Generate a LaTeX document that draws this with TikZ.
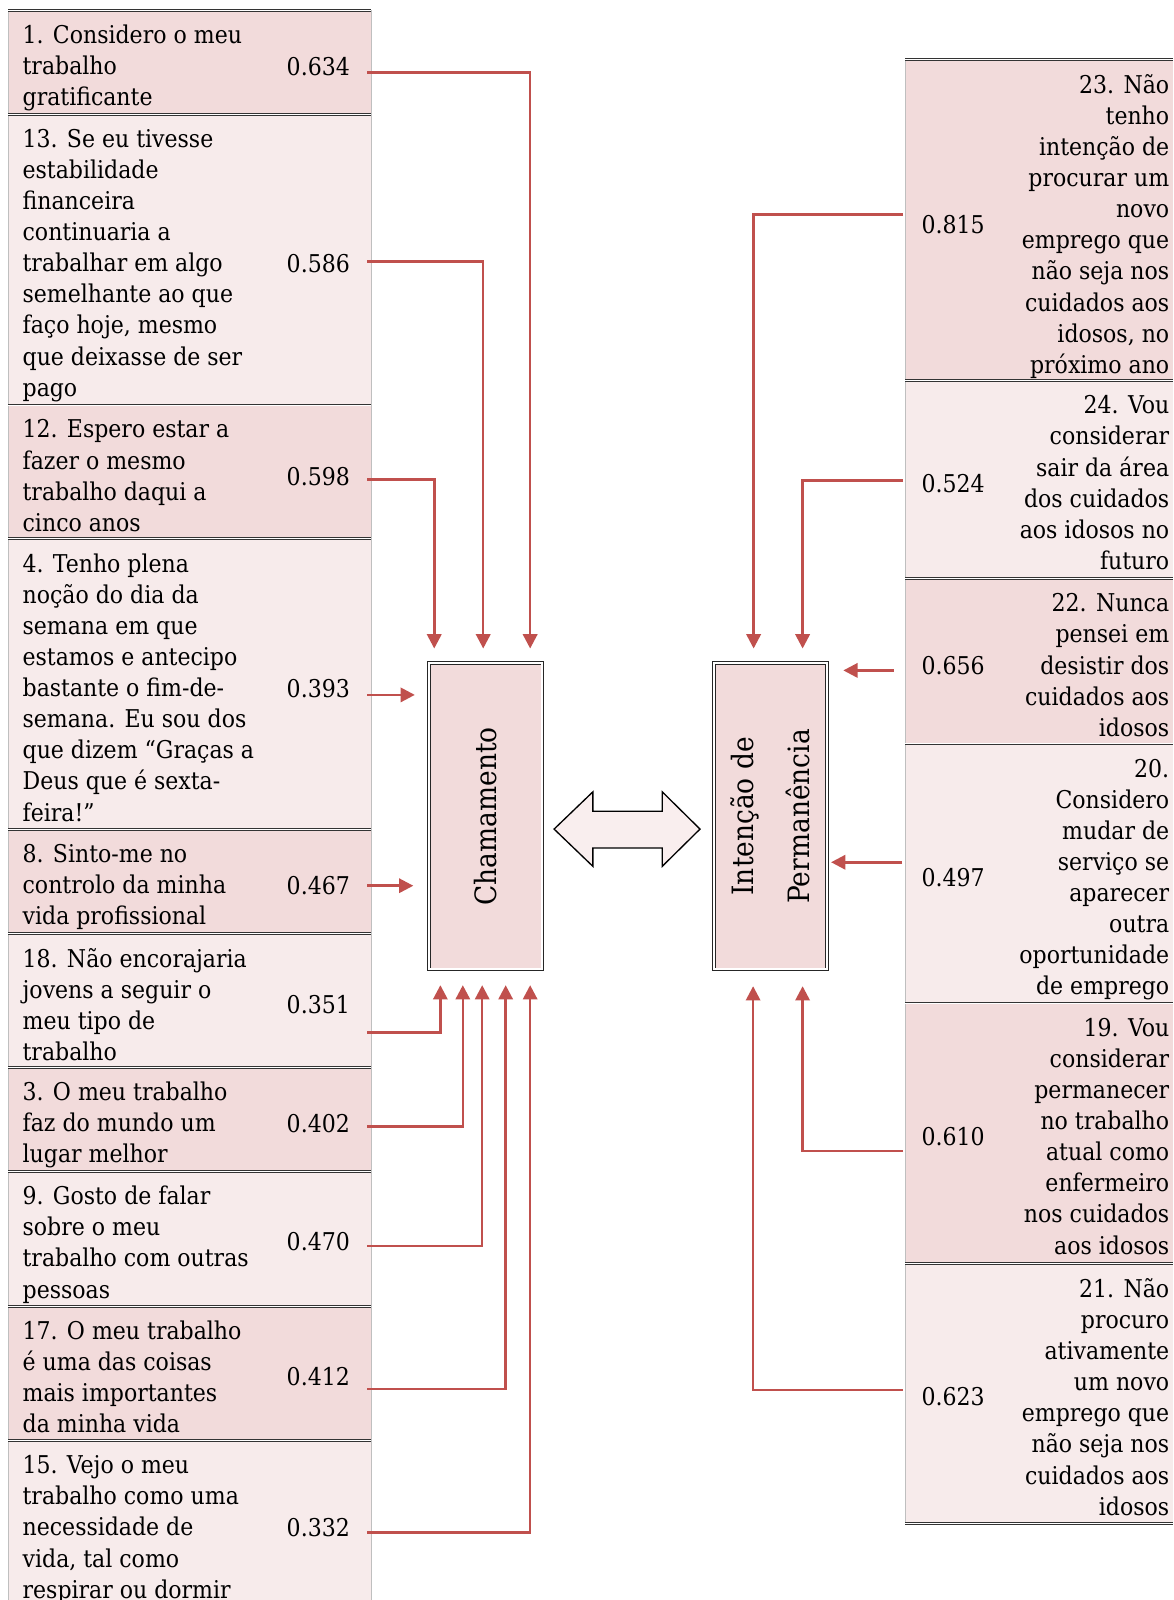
\documentclass[tikz,border=0pt]{standalone}
\usepackage{fontspec}
\setmainfont{DejaVu Serif Condensed}
\usepackage{graphicx}
\usetikzlibrary{arrows.meta}
\definecolor{rowdark}{HTML}{F2DBDB}
\definecolor{rowlight}{HTML}{F7EBEB}
\definecolor{linkred}{HTML}{C0504D}
\definecolor{linkfill}{HTML}{F9EEEE}
\tikzset{
  txt/.style={font=\fontsize{24}{30.5}\selectfont, inner sep=0pt},
  big/.style={font=\fontsize{28.8}{34}\selectfont, inner sep=0pt, rotate=90},
  item/.style={txt, anchor=north west, align=left, execute at begin node=\strut},
  itemr/.style={txt, anchor=north east, align=right, execute at begin node=\strut},
  rule/.style={draw=black!80, double=white, double distance=0.9pt, line width=0.9pt},
  edge/.style={draw=black!25, line width=0.8pt},
  factor/.style={draw=black!85, line width=0.9pt, double=white, double distance=1.8pt,
    fill=rowdark, minimum width=111pt, minimum height=300pt},
  arr/.style={draw=linkred, line width=2.5pt, -{Triangle[length=14pt,width=14pt]}},
  link/.style={draw=black, line width=1.3pt, fill=linkfill, line join=miter}
}

\begin{document}
\begin{tikzpicture}[x=1pt,y=-1pt]
\useasboundingbox (0,0) rectangle (1150,1568);

% left table
\fill[rowdark] (8,10) rectangle (364,112);
\fill[rowlight] (8,112) rectangle (364,397);
\fill[rowdark] (8,397) rectangle (364,528);
\fill[rowlight] (8,528) rectangle (364,813);
\fill[rowdark] (8,813) rectangle (364,915);
\fill[rowlight] (8,915) rectangle (364,1046);
\fill[rowdark] (8,1046) rectangle (364,1148);
\fill[rowlight] (8,1148) rectangle (364,1280);
\fill[rowdark] (8,1280) rectangle (364,1412);
\fill[rowlight] (8,1412) rectangle (364,1568);
\draw[edge] (8,10) -- (8,1568);
\draw[edge] (364,10) -- (364,1568);
\foreach \y in {10,112,397,528,813,915,1046,1148,1280,1412}
  \draw[rule] (8,\y) -- (364,\y);

% right table
\fill[rowdark] (887,58) rectangle (1150,373);
\fill[rowlight] (887,373) rectangle (1150,567);
\fill[rowdark] (887,567) rectangle (1150,729);
\fill[rowlight] (887,729) rectangle (1150,983);
\fill[rowdark] (887,983) rectangle (1150,1238);
\fill[rowlight] (887,1238) rectangle (1150,1493);
\draw[edge] (887,58) -- (887,1493);
\foreach \y in {58,373,567,729,983,1238,1493}
  \draw[rule] (887,\y) -- (1150,\y);

% items, Chamamento
\node[item] (r1) at (22,24.2) {1. Considero o meu\\trabalho\\gratificante};
\node[item] (r13) at (22,126.2) {13. Se eu tivesse\\estabilidade\\financeira\\continuaria a\\trabalhar em algo\\semelhante ao que\\faço hoje, mesmo\\que deixasse de ser\\pago};
\node[item] (r12) at (22,411.2) {12. Espero estar a\\fazer o mesmo\\trabalho daqui a\\cinco anos};
\node[item] (r4) at (22,542.2) {4. Tenho plena\\noção do dia da\\semana em que\\estamos e antecipo\\bastante o fim-de-\\semana. Eu sou dos\\que dizem “Graças a\\Deus que é sexta-\\feira!”};
\node[item] (r8) at (22,827.2) {8. Sinto-me no\\controlo da minha\\vida profissional};
\node[item] (r18) at (22,929.2) {18. Não encorajaria\\jovens a seguir o\\meu tipo de\\trabalho};
\node[item] (r3) at (22,1060.2) {3. O meu trabalho\\faz do mundo um\\lugar melhor};
\node[item] (r9) at (22,1162.2) {9. Gosto de falar\\sobre o meu\\trabalho com outras\\pessoas};
\node[item] (r17) at (22,1294.2) {17. O meu trabalho\\é uma das coisas\\mais importantes\\da minha vida};
\node[item] (r15) at (22,1426.2) {15. Vejo o meu\\trabalho como uma\\necessidade de\\vida, tal como\\respirar ou dormir};

\node[txt, anchor=east] (v634) at (343,65) {0.634};
\node[txt, anchor=east] (v586) at (343,258) {0.586};
\node[txt, anchor=east] (v598) at (343,467) {0.598};
\node[txt, anchor=east] (v393) at (343,675) {0.393};
\node[txt, anchor=east] (v467) at (343,868) {0.467};
\node[txt, anchor=east] (v351) at (343,984) {0.351};
\node[txt, anchor=east] (v402) at (343,1101) {0.402};
\node[txt, anchor=east] (v470) at (343,1217) {0.470};
\node[txt, anchor=east] (v412) at (343,1349) {0.412};
\node[txt, anchor=east] (v332) at (343,1497) {0.332};

% items, Intencao
\node[itemr] (q23) at (1146,72.5) {23. Não\\tenho\\intenção de\\procurar um\\novo\\emprego que\\não seja nos\\cuidados aos\\idosos, no\\próximo ano};
\node[itemr] (q24) at (1146,387.5) {24. Vou\\considerar\\sair da área\\dos cuidados\\aos idosos no\\futuro};
\node[itemr] (q22) at (1146,581.5) {22. Nunca\\pensei em\\desistir dos\\cuidados aos\\idosos};
\node[itemr] (q20) at (1146,743.5) {20.\\Considero\\mudar de\\serviço se\\aparecer\\outra\\oportunidade\\de emprego};
\node[itemr] (q19) at (1146,997.5) {19. Vou\\considerar\\permanecer\\no trabalho\\atual como\\enfermeiro\\nos cuidados\\aos idosos};
\node[itemr] (q21) at (1146,1252.5) {21. Não\\procuro\\ativamente\\um novo\\emprego que\\não seja nos\\cuidados aos\\idosos};

\node[txt, anchor=west] (v815) at (903,220) {0.815};
\node[txt, anchor=west] (v524) at (903,474) {0.524};
\node[txt, anchor=west] (v656) at (903,652) {0.656};
\node[txt, anchor=west] (v497) at (903,860) {0.497};
\node[txt, anchor=west] (v610) at (903,1114) {0.610};
\node[txt, anchor=west] (v623) at (903,1369) {0.623};

% factors
\node[factor] (cham) at (476,800) {};
\node[big] (chamtxt) at (cham) {Chamamento};
\node[factor] (int) at (755,800) {};
\node[big, align=center] (inttxt) at (int) {Intenção de\\[21pt]Permanência};

\draw[link] (543,812.5) -- (581,776) -- (581,795) -- (649,795) -- (649,776) -- (686,812.5)
  -- (649,849) -- (649,831) -- (581,831) -- (581,849) -- cycle;

% connectors
\coordinate (s634) at (360,71);
\coordinate (s586) at (360,256);
\coordinate (s598) at (360,470);
\coordinate (s393) at (360,681);
\coordinate (s467) at (360,868);
\coordinate (s351) at (360,1012);
\coordinate (s402) at (360,1104);
\coordinate (s470) at (360,1221);
\coordinate (s412) at (360,1361);
\coordinate (s332) at (360,1502);
\coordinate (s815) at (885,210);
\coordinate (s524) at (885,471);
\coordinate (s656) at (876,657);
\coordinate (s497) at (884,845);
\coordinate (s610) at (885,1128);
\coordinate (s623) at (885,1362);

\draw[arr, shorten >=14pt] (s634) -| ([xshift=99.5pt]cham.north west);
\draw[arr, shorten >=14pt] (s586) -| ([xshift=53.5pt]cham.north west);
\draw[arr, shorten >=14pt] (s598) -| ([xshift=5.5pt]cham.north west);
\draw[arr, shorten >=13.5pt] (s393) -- (s393 -| cham.west);
\draw[arr, shorten >=15pt] (s467) -- (s467 -| cham.west);
\draw[arr, shorten >=15pt] (s351) -| ([xshift=11.5pt]cham.south west);
\draw[arr, shorten >=15pt] (s402) -| ([xshift=33.5pt]cham.south west);
\draw[arr, shorten >=15pt] (s470) -| ([xshift=52.5pt]cham.south west);
\draw[arr, shorten >=15pt] (s412) -| ([xshift=75.5pt]cham.south west);
\draw[arr, shorten >=15pt] (s332) -| ([xshift=99.5pt]cham.south west);

\draw[arr, shorten >=14pt] (s815) -| ([xshift=39.5pt]int.north west);
\draw[arr, shorten >=14pt] (s524) -| ([xshift=87.5pt]int.north west);
\draw[arr, shorten >=15.5pt] (s656) -- (s656 -| int.east);
\draw[arr, shorten >=3.5pt] (s497) -- (s497 -| int.east);
\draw[arr, shorten >=16pt] (s610) -| ([xshift=87.5pt]int.south west);
\draw[arr, shorten >=16pt] (s623) -| ([xshift=39pt]int.south west);
\end{tikzpicture}
\end{document}
